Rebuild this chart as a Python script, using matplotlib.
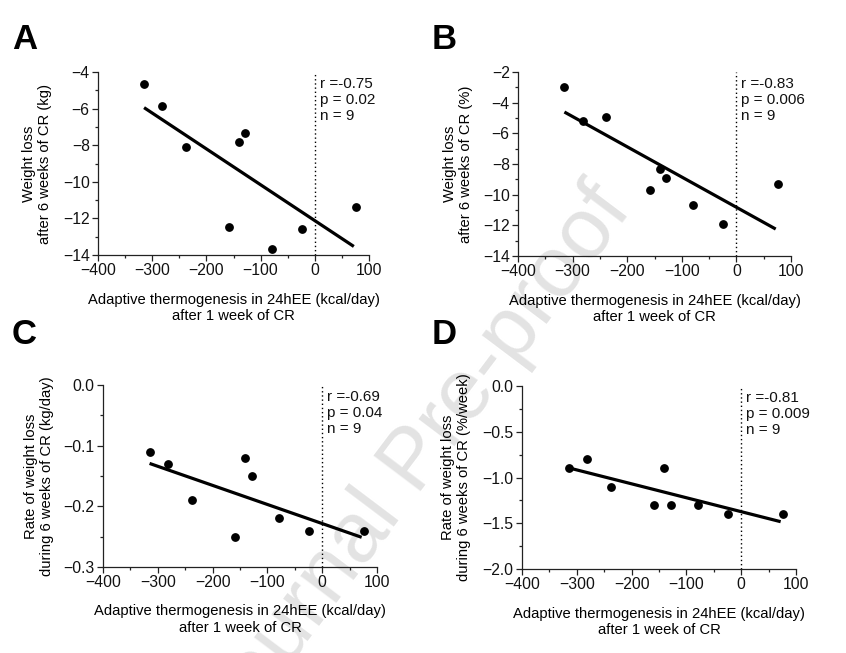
import numpy as np
import matplotlib
matplotlib.use('Agg')
import matplotlib.pyplot as plt
from matplotlib.ticker import MultipleLocator, FuncFormatter

plt.rcParams['font.family'] = ['Liberation Sans', 'DejaVu Sans']

# --- data ---
adaptive_thermo = [-315, -281, -238, -159, -140, -129, -79, -24, 76]
wl_kg = [-4.64, -5.84, -8.12, -12.47, -7.81, -7.32, -13.65, -12.58, -11.40]
wl_pct = [-2.96, -5.22, -4.94, -9.71, -8.32, -8.93, -10.69, -11.89, -9.32]
rate_kg_day = [-0.11, -0.13, -0.19, -0.25, -0.12, -0.15, -0.22, -0.24, -0.24]
rate_pct_week = [-0.90, -0.80, -1.10, -1.30, -0.90, -1.30, -1.30, -1.40, -1.40]

panel_letters = ['A', 'B', 'C', 'D']
y_labels = ['Weight loss\nafter 6 weeks of CR (kg)',
            'Weight loss\nafter 6 weeks of CR (%)',
            'Rate of weight loss\nduring 6 weeks of CR (kg/day)',
            'Rate of weight loss\nduring 6 weeks of CR (%/week)']
x_label = 'Adaptive thermogenesis in 24hEE (kcal/day)\nafter 1 week of CR'
stats = [('-0.75', '0.02'), ('-0.83', '0.006'), ('-0.69', '0.04'), ('-0.81', '0.009')]
y_limits = [(-14, -4), (-14, -2), (-0.3, 0.0), (-2.0, 0.0)]
y_major = [2, 2, 0.1, 0.5]
y_decimals = [0, 0, 1, 1]

W, H = 846, 653
fig = plt.figure(figsize=(W / 100, H / 100), dpi=100)

# axes boxes in pixels: left, top, right, bottom
boxes = [(98, 72, 369, 255), (518, 72, 791, 256),
         (103, 385, 377, 567), (522, 386, 796, 569)]
ylabel_right = [52, 473, 54, 471]
letter_pos = [(12, 23), (432, 23), (12, 318), (432, 318)]

series = [wl_kg, wl_pct, rate_kg_day, rate_pct_week]

def fmt(dec):
    def f(v, pos):
        s = f'{v:.{dec}f}'
        if s.startswith('-'):
            s = '\u2212' + s[1:]
        if s in ('\u22120', '\u22120.0'):
            s = s[1:]
        return s
    return FuncFormatter(f)

for i, (yv, box) in enumerate(zip(series, boxes)):
    l, t, r, b = box
    ax = fig.add_axes([l / W, 1 - b / H, (r - l) / W, (b - t) / H])
    ax.patch.set_alpha(0)
    x = np.array(adaptive_thermo, dtype=float)
    y = np.array(yv, dtype=float)

    ax.plot(x, y, 'o', color='black', ms=5.3, clip_on=False, zorder=4)
    k, c = np.polyfit(x, y, 1)
    xs = np.array([x.min(), x.max() - 4])
    ax.plot(xs, k * xs + c, '-', color='black', lw=2.3, solid_capstyle='butt', zorder=3)

    ax.set_xlim(-400, 100)
    ax.set_ylim(*y_limits[i])
    ax.axvline(0, color='black', ls=(0, (1, 2)), lw=1.0)

    for s in ['top', 'right']:
        ax.spines[s].set_visible(False)
    for s in ['left', 'bottom']:
        ax.spines[s].set_linewidth(0.9)
        ax.spines[s].set_color('#222222')
    ax.xaxis.set_major_locator(MultipleLocator(100))
    ax.xaxis.set_minor_locator(MultipleLocator(50))
    ax.yaxis.set_major_locator(MultipleLocator(y_major[i]))
    ax.yaxis.set_minor_locator(MultipleLocator(y_major[i] / 2))
    ax.xaxis.set_major_formatter(fmt(0))
    ax.yaxis.set_major_formatter(fmt(y_decimals[i]))
    ax.tick_params(which='major', length=4, width=0.9, color='#222222',
                   labelsize=11.3, pad=2, labelcolor='#111111')
    ax.tick_params(which='minor', length=2.5, width=0.9, color='#222222')

    ax.set_xlabel(x_label, fontsize=10.6, linespacing=1.22)
    ax.xaxis.set_label_coords(0.5, -0.205)
    ax.set_ylabel(y_labels[i], fontsize=10.6, linespacing=1.22)
    ax.yaxis.set_label_coords(-(l - ylabel_right[i]) / (r - l), 0.5)

    r_val, p_val = stats[i]
    ax.text((0 + 400) / 500 + 0.018, 0.975, f'r ={r_val}\np = {p_val}\nn = 9',
            transform=ax.transAxes, ha='left', va='top', fontsize=11,
            linespacing=1.22, color='#111111')

    lx, ly = letter_pos[i]
    fig.text(lx / W, 1 - ly / H, panel_letters[i], fontsize=25, fontweight='bold',
             ha='left', va='top')

fig.text(415 / W, 1 - 462 / H, 'Journal Pre-proof', fontsize=62, color='#e3e3e3',
         rotation=53, rotation_mode='anchor', ha='center', va='center', zorder=-1)

fig.savefig('out.png', dpi=100, facecolor='white')
